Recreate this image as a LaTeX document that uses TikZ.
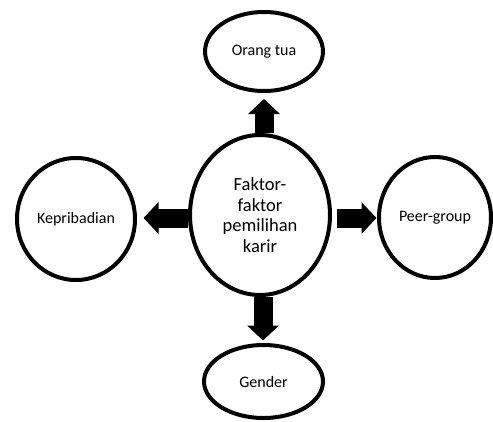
\documentclass[tikz,border=0pt]{standalone}
\usepackage{fontspec}
\setmainfont{Carlito}
\usetikzlibrary{shapes.geometric,arrows.meta}
\begin{document}
\begin{tikzpicture}[x=1pt,y=-1pt,
  oval/.style={ellipse,draw=black,line width=4pt,fill=white,inner sep=0pt,
    font=\fontsize{16}{19}\selectfont,align=center},
  bigarrow/.style={draw=black,line width=19pt,-{Triangle[width=31pt,length=15pt]}}]
\useasboundingbox (0,0) rectangle (493,421);
\node[oval,minimum width=140pt,minimum height=160pt,font=\fontsize{18.5}{20.7}\selectfont] (c) at (260,215) {Faktor-\\faktor\\pemilihan\\karir};
\node[oval,minimum width=118pt,minimum height=79pt] (top) at (264,51.5) {Orang tua};
\node[oval,minimum width=118pt,minimum height=122pt] (left) at (76,219) {Kepribadian};
\node[oval,minimum width=112pt,minimum height=121pt] (right) at (435,217.5) {Peer-group};
\node[oval,minimum width=119pt,minimum height=73pt] (bot) at (263.5,381.5) {Gender};
\coordinate (tn) at ([xshift=4pt]c.north);
\coordinate (bs) at ([xshift=3pt]c.south);
\coordinate (lw) at ([yshift=-3pt]c.west);
\coordinate (re) at ([yshift=-3pt]c.east);
\draw[bigarrow,shorten >=6pt] (tn) -- (tn |- top.south);
\draw[bigarrow,shorten >=2.5pt] (bs) -- (bs |- bot.north);
\draw[bigarrow,shorten >=6.5pt] (lw) -- (lw -| left.east);
\draw[bigarrow,shorten <=4.5pt,shorten >=0.5pt] (re) -- (re -| right.west);
\end{tikzpicture}
\end{document}
